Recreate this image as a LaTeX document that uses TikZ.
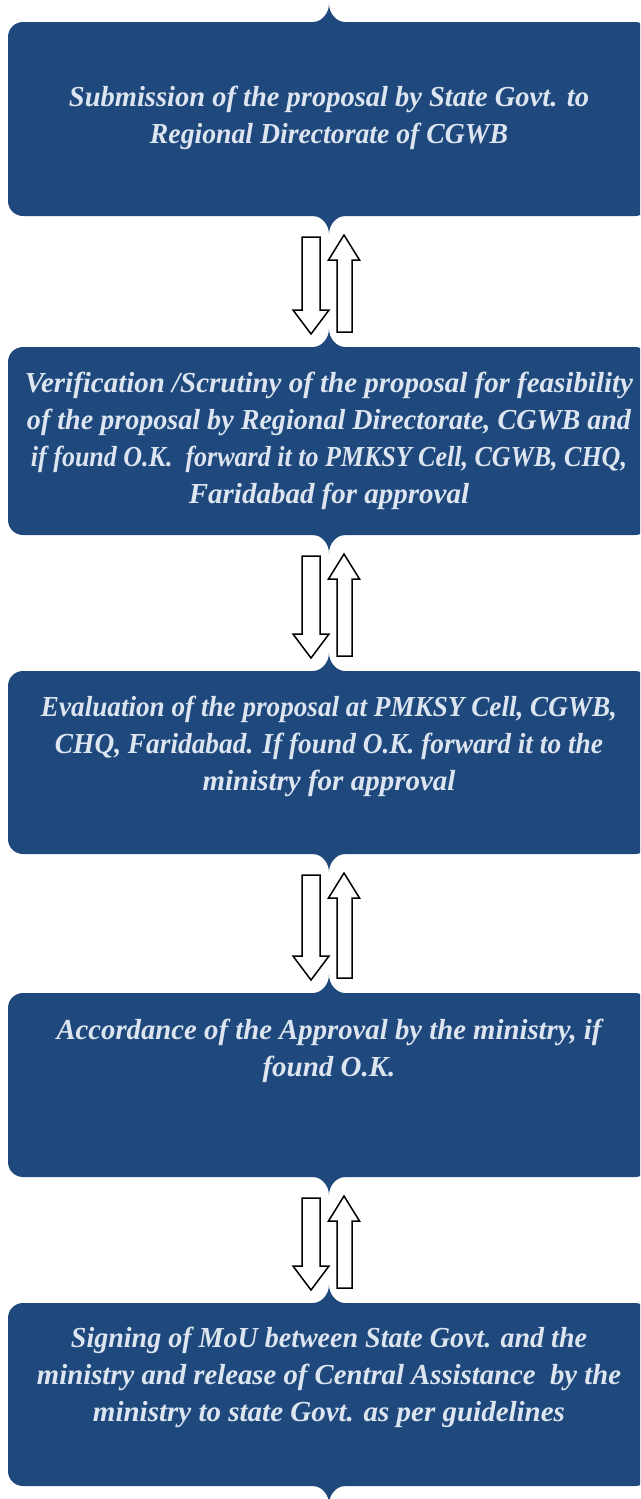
\documentclass[tikz,border=0pt]{standalone}
\usepackage{fontspec}
\usepackage{graphicx}
\setmainfont{Liberation Serif}
\definecolor{boxblue}{HTML}{1F497D}
\definecolor{boxtext}{HTML}{DDE5F0}
\tikzset{
  boxfill/.style={fill=boxblue},
  boxtxt/.style={text=boxtext, align=center, inner sep=0pt,
    font=\fontsize{29}{37}\selectfont\bfseries\itshape},
  arrowshape/.style={draw=black, fill=white, line width=1.5pt, line join=miter},
}
\newcommand\fitw[2]{\resizebox{#1pt}{\height}{#2}}
\newcommand\flowbox[3]{% #1 name, #2 top, #3 bottom
  \fill[boxfill, rounded corners=15pt] (8,#2) rectangle (650,#3);
  \coordinate (#1-n) at (329,#2);
  \coordinate (#1-s) at (329,#3);
  \fill[boxfill] (313,{#2+1}) -- (313,#2) .. controls (321.8,#2) and (329,{#2-9}) .. (329,{#2-18})
     .. controls (329,{#2-9}) and (336.2,#2) .. (345,#2) -- (345,{#2+1}) -- cycle;
  \fill[boxfill] (313,{#3-1}) -- (313,#3) .. controls (321.8,#3) and (329,{#3+9}) .. (329,{#3+18})
     .. controls (329,{#3+9}) and (336.2,#3) .. (345,#3) -- (345,{#3-1}) -- cycle;
}
\newcommand\twoarrows[2]{% #1 bottom of upper box, #2 top of lower box
  \draw[arrowshape] (302,{#1+21}) -- (320,{#1+21}) -- (320,{#2-37}) -- (329,{#2-37})
     -- (311,{#2-13}) -- (293,{#2-37}) -- (302,{#2-37}) -- cycle;
  \draw[arrowshape] (337,{#2-15}) -- (352,{#2-15}) -- (352,{#1+44}) -- (359.5,{#1+44})
     -- (344,{#1+19}) -- (328.5,{#1+44}) -- (337,{#1+44}) -- cycle;
}
\begin{document}
\begin{tikzpicture}[x=1pt,y=-1pt]
\useasboundingbox (0,0) rectangle (640,1499);
\clip (0,0) rectangle (640,1499);
\flowbox{b1}{22}{216}
\flowbox{b2}{347}{535}
\flowbox{b3}{671}{854}
\flowbox{b4}{993}{1177}
\flowbox{b5}{1303}{1486}
\node[boxtxt] (t1) at (329,118) {\fitw{520}{Submission of the proposal by State Govt. to}\\\fitw{358}{Regional Directorate of CGWB}};
\node[boxtxt] (t2) at (329,441) {\fitw{608}{Verification /Scrutiny of the proposal for feasibility}\\\fitw{604}{of the proposal by Regional Directorate, CGWB and}\\\fitw{596}{if found O.K.\ \ forward it to PMKSY Cell, CGWB, CHQ,}\\Faridabad for approval};
\node[boxtxt] (t3) at (329,746) {\fitw{576}{Evaluation of the proposal at PMKSY Cell, CGWB,}\\\fitw{548}{CHQ, Faridabad. If found O.K. forward it to the}\\ministry for approval};
\node[boxtxt] (t4) at (329,1051) {\fitw{545}{Accordance of the Approval by the ministry, if}\\found O.K.};
\node[boxtxt] (t5) at (329,1377) {\fitw{516}{Signing of MoU between State Govt. and the}\\\fitw{584}{ministry and release of Central Assistance\ \ by the}\\\fitw{472}{ministry to state Govt. as per guidelines}};
\twoarrows{216}{347}
\twoarrows{535}{671}
\twoarrows{854}{993}
\twoarrows{1177}{1303}
\end{tikzpicture}
\end{document}
